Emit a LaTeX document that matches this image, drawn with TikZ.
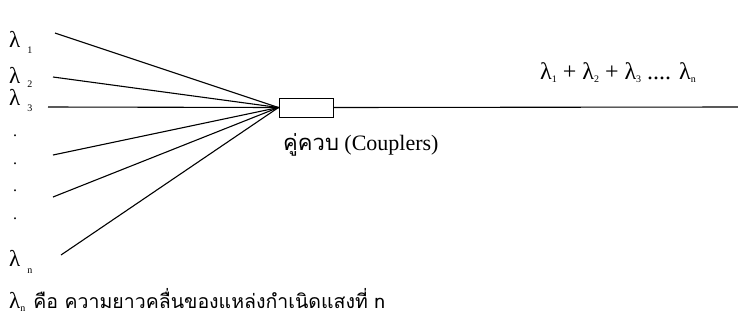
\documentclass[tikz,border=0pt]{standalone}
\usepackage{fontspec}
\setmainfont{Liberation Serif}
\newfontfamily\thaifont[Script=Thai]{Loma}
\newcommand{\lsub}[2][-3pt]{λ\raisebox{#1}{\fontsize{10}{10}\selectfont #2}}
\begin{document}
\begin{tikzpicture}[x=1pt,y=-1pt,
  fiber/.style={line width=1.1pt},
  lab/.style={inner sep=0pt,anchor=west,font=\fontsize{23}{23}\selectfont},
  dotl/.style={inner sep=0pt,font=\fontsize{16}{16}\selectfont}]
\useasboundingbox (0,0) rectangle (738,325);
% input labels
\node[lab] (l1) at (9,42) {λ\hspace{7pt}\raisebox{-6pt}{\fontsize{10}{10}\selectfont 1}};
\node[lab] (l2) at (9,77) {λ\hspace{7pt}\raisebox{-4pt}{\fontsize{10}{10}\selectfont 2}};
\node[lab] (l3) at (9,100) {λ\hspace{7pt}\raisebox{-6pt}{\fontsize{10}{10}\selectfont 3}};
\node[dotl] (d1) at (15,136) {.};
\node[dotl] (d2) at (15,164) {.};
\node[dotl] (d3) at (15,191) {.};
\node[dotl] (d4) at (15,219) {.};
\node[lab] (ln) at (9,262) {λ\hspace{7pt}\raisebox{-7pt}{\fontsize{10}{10}\selectfont n}};
% fiber start points
\coordinate (s1) at (55,33);
\coordinate (s2) at (53,77);
\coordinate (s3) at (48,107);
\coordinate (s4) at (53,155);
\coordinate (s5) at (53,197);
\coordinate (s6) at (61,255);
% coupler
\node[draw,line width=1pt,minimum width=54pt,minimum height=19pt,inner sep=0pt] (cp) at (306,107.5) {};
\coordinate (end) at (738,107);
\foreach \i in {1,...,6} \draw[fiber] (s\i) -- (cp.west);
\draw[fiber] (cp.east) -- (end);
% labels
\node[inner sep=0pt,anchor=west,font=\fontsize{22}{22}\selectfont] (cl) at (283,145) {{\thaifont คู่ควบ} (Couplers)};
\node[inner sep=0pt,anchor=west,font=\fontsize{24}{24}\selectfont] (sum) at (540,73)
 {\lsub{1} + \lsub{2} + \lsub{3} .... \lsub{n}};
\node[inner sep=0pt,anchor=west,font=\fontsize{19.5}{19.5}\selectfont] (note) at (9,300)
 {{\fontsize{23}{23}\selectfont\lsub{n}}\hspace{8pt}{\thaifont คือ ความยาวคลื่นของแหล่งกำเนิดแสงที่ n}};
\end{tikzpicture}
\end{document}
